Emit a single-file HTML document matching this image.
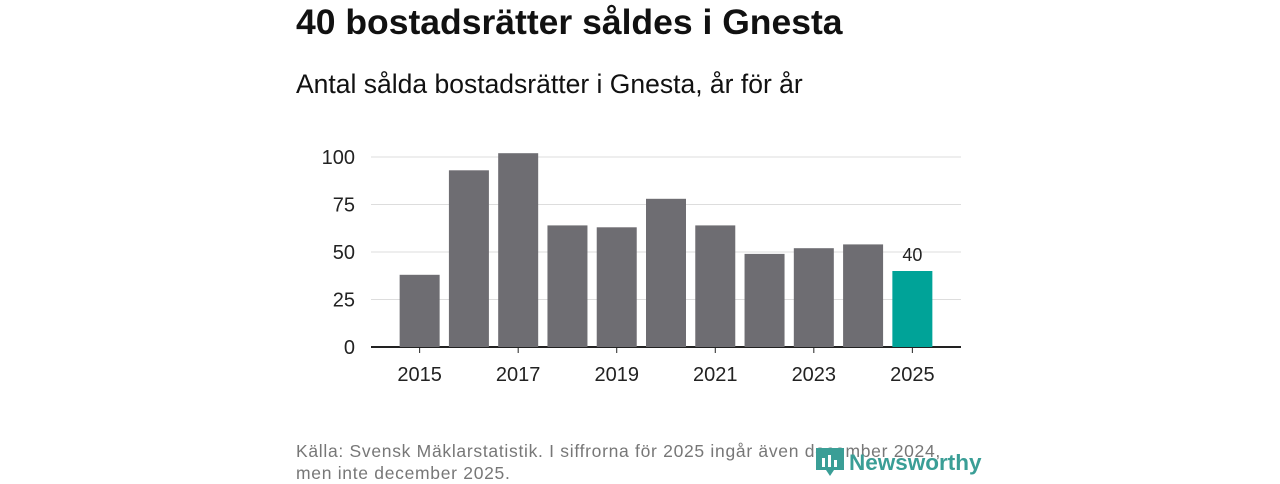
<!DOCTYPE html>
<html><head><meta charset="utf-8"><style>
body{margin:0;width:1280px;height:480px;background:#fff;font-family:"Liberation Sans","DejaVu Sans",sans-serif;position:relative;overflow:hidden}
.t{position:absolute;left:296px;top:2px;font-size:35.5px;font-weight:bold;color:#111}
.s{position:absolute;left:296px;top:69px;font-size:26.5px;color:#111}
.src{position:absolute;left:296px;top:440px;font-size:17.5px;color:#777;line-height:22px;letter-spacing:0.7px}
.logo{position:absolute;left:815px;top:446px;font-size:22.5px;font-weight:bold;color:#3a9e96}
</style></head><body>
<div class="t">40 bostadsrätter såldes i Gnesta</div>
<div class="s">Antal sålda bostadsrätter i Gnesta, år för år</div>
<svg id="c" width="1280" height="480" style="position:absolute;left:0;top:0"></svg>
<div class="src">Källa: Svensk Mäklarstatistik. I siffrorna för 2025 ingår även december 2024,<br>men inte december 2025.</div>
<div class="logo"><svg width="34" height="32" style="vertical-align:-8px"><path d="M1 2h28v22l-10 0-4 6-4-6H1z" fill="#3a9e96"/><rect x="7" y="12" width="3" height="9" fill="#fff"/><rect x="13" y="9" width="3" height="12" fill="#fff"/><rect x="19" y="14" width="3" height="7" fill="#fff"/></svg>Newsworthy</div>
<script>
const years=[2015,2016,2017,2018,2019,2020,2021,2022,2023,2024,2025];
const values=[38,93,102,64,63,78,64,49,52,54,40];
const yTicks=[0,25,50,75,100];
const xTickLabels=[2015,2017,2019,2021,2023,2025];
const svg=document.getElementById('c');const NS='http://www.w3.org/2000/svg';
const x0=371,x1=961,y0=347,yScale=1.9,pad=24;
const step=(x1-x0-2*pad)/years.length;
const X=i=>x0+pad+step*(i+0.5);
const Y=v=>y0-v*yScale;
function mk(t,a){const e=document.createElementNS(NS,t);for(const k in a)e.setAttribute(k,a[k]);svg.appendChild(e);return e;}
yTicks.forEach(v=>{
 const l=mk('line',{x1:x0,x2:x1,y1:Y(v),y2:Y(v),stroke:v?'#ddd':'#222','stroke-width':v?1:2});
 
 
 const t=mk('text',{x:355,y:Y(v)+7,'text-anchor':'end','font-size':20,fill:'#222'});t.textContent=v;
 
 
});
years.forEach((yr,i)=>{
 const last=i===years.length-1;
 const r=mk('rect',{x:X(i)-20,y:Y(values[i]),width:40,height:values[i]*yScale,fill:last?'#00a398':'#6e6d72'});
 
 
 if(last){const t=mk('text',{x:X(i),y:Y(values[i])-10,'text-anchor':'middle','font-size':18,fill:'#222'});t.textContent=values[i];
 
 }
 if(xTickLabels.includes(yr)){
  mk('line',{x1:X(i),x2:X(i),y1:y0,y2:y0+6,stroke:'#222'});
  const t=mk('text',{x:X(i),y:381,'text-anchor':'middle','font-size':20,fill:'#222'});t.textContent=yr;
  
  
 }
});
</script>
</body></html>
